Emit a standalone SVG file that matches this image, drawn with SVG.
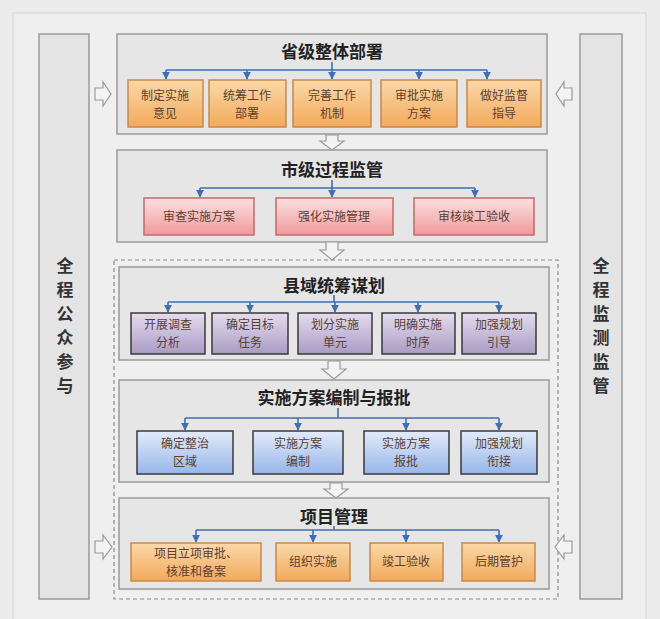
<svg xmlns="http://www.w3.org/2000/svg" width="660" height="619" viewBox="0 0 660 619">
<defs>
<linearGradient id="gO" x1="0" y1="0" x2="0" y2="1"><stop offset="0" stop-color="#fbd9a8"/><stop offset="1" stop-color="#f2a95c"/></linearGradient>
<linearGradient id="gR" x1="0" y1="0" x2="0" y2="1"><stop offset="0" stop-color="#fbe0e0"/><stop offset="1" stop-color="#f09a9c"/></linearGradient>
<linearGradient id="gP" x1="0" y1="0" x2="0" y2="1"><stop offset="0" stop-color="#e4dcee"/><stop offset="1" stop-color="#a99cc4"/></linearGradient>
<linearGradient id="gB" x1="0" y1="0" x2="0" y2="1"><stop offset="0" stop-color="#e2ebfa"/><stop offset="1" stop-color="#98b6ea"/></linearGradient>
<marker id="ah" viewBox="0 0 10 10" refX="9" refY="5" markerWidth="5" markerHeight="5" orient="auto"><path d="M0,0 L10,5 L0,10 Z" fill="#3e6fb5"/></marker>
</defs>
<style>
.panel{fill:#e6e6e6;stroke:#9a9a9a;stroke-width:1.5}
.side{fill:#e4e4e4;stroke:#9a9a9a;stroke-width:1.5}
.o{fill:url(#gO);stroke:#c8894a;stroke-width:1.5}
.r{fill:url(#gR);stroke:#c46a6a;stroke-width:1.5}
.p{fill:url(#gP);stroke:#3a3a3a;stroke-width:1.5}
.b{fill:url(#gB);stroke:#3a3a3a;stroke-width:1.5}
.t{font-family:"Noto Sans CJK SC",sans-serif;font-weight:bold;font-size:17px;fill:#222;text-anchor:middle}
.s{font-family:"Noto Sans CJK SC",sans-serif;font-size:12px;fill:#5a4030;text-anchor:middle}
.v{font-family:"Noto Sans CJK SC",sans-serif;font-weight:bold;font-size:17px;fill:#333;text-anchor:middle}
.bus{fill:none;stroke:#3e6fb5;stroke-width:1.6}
.big{fill:#f4f4f4;stroke:#9a9a9a;stroke-width:1.2}
</style>
<rect x="0" y="0" width="660" height="619" fill="#ececec"/>
<rect x="13" y="13" width="633" height="620" fill="#efefef" stroke="#d4d4d4"/>
<g id="left-side"><rect class="side" x="39" y="34" width="50" height="565"/>
<text class="v" x="65" y="272">全</text><text class="v" x="65" y="296">程</text><text class="v" x="65" y="320">公</text><text class="v" x="65" y="344">众</text><text class="v" x="65" y="368">参</text><text class="v" x="65" y="392">与</text></g>
<g id="right-side"><rect class="side" x="580" y="34" width="42" height="565"/>
<text class="v" x="601" y="272">全</text><text class="v" x="601" y="296">程</text><text class="v" x="601" y="320">监</text><text class="v" x="601" y="344">测</text><text class="v" x="601" y="368">监</text><text class="v" x="601" y="392">管</text></g>
<rect x="114" y="260" width="444" height="339" fill="none" stroke="#8a8a8a" stroke-width="1.2" stroke-dasharray="4,3"/>
<g id="p1"><rect class="panel" x="117" y="34" width="430" height="100"/><text class="t" x="332" y="58">省级整体部署</text></g>
<g id="p2"><rect class="panel" x="117" y="150" width="430" height="92"/><text class="t" x="332" y="176">市级过程监管</text></g>
<g id="p3"><rect class="panel" x="119" y="267" width="430" height="93"/><text class="t" x="334" y="292">县域统筹谋划</text></g>
<g id="p4"><rect class="panel" x="119" y="380" width="430" height="102"/><text class="t" x="334" y="404">实施方案编制与报批</text></g>
<g id="p5"><rect class="panel" x="119" y="498" width="430" height="91"/><text class="t" x="334" y="523">项目管理</text></g>
<g id="connectors">
<path class="bus" d="M332,62 V70 M166,70 H487"/>
<path class="bus" d="M166,70 V79" marker-end="url(#ah)"/><path class="bus" d="M247,70 V79" marker-end="url(#ah)"/><path class="bus" d="M332,70 V79" marker-end="url(#ah)"/><path class="bus" d="M419,70 V79" marker-end="url(#ah)"/><path class="bus" d="M487,70 V79" marker-end="url(#ah)"/>
<path class="bus" d="M332,180 V188 M200,188 H475"/>
<path class="bus" d="M200,188 V197" marker-end="url(#ah)"/><path class="bus" d="M332,188 V197" marker-end="url(#ah)"/><path class="bus" d="M475,188 V197" marker-end="url(#ah)"/>
<path class="bus" d="M334,295 V302 M168,302 H499"/>
<path class="bus" d="M168,302 V312" marker-end="url(#ah)"/><path class="bus" d="M250,302 V312" marker-end="url(#ah)"/><path class="bus" d="M335,302 V312" marker-end="url(#ah)"/><path class="bus" d="M418,302 V312" marker-end="url(#ah)"/><path class="bus" d="M499,302 V312" marker-end="url(#ah)"/>
<path class="bus" d="M338,408 V418 M185,418 H499"/>
<path class="bus" d="M185,418 V430" marker-end="url(#ah)"/><path class="bus" d="M298,418 V430" marker-end="url(#ah)"/><path class="bus" d="M406,418 V430" marker-end="url(#ah)"/><path class="bus" d="M499,418 V430" marker-end="url(#ah)"/>
<path class="bus" d="M334,526 V530 M196,530 H499"/>
<path class="bus" d="M196,530 V542" marker-end="url(#ah)"/><path class="bus" d="M313,530 V542" marker-end="url(#ah)"/><path class="bus" d="M406,530 V542" marker-end="url(#ah)"/><path class="bus" d="M499,530 V542" marker-end="url(#ah)"/>
<path class="big" d="M326,135 H338 V141 H344 L332,150 L320,141 H326 Z"/>
<path class="big" d="M326,242 H338 V250 H344 L332,260 L320,250 H326 Z"/>
<path class="big" d="M328,361 H340 V369 H346 L334,379 L322,369 H328 Z"/>
<path class="big" d="M330,483 H342 V489 H348 L336,498 L324,489 H330 Z"/>
<path class="big" d="M95,88 H103 V82 L111,94 L103,106 V100 H95 Z"/>
<path class="big" d="M572,88 H564 V82 L556,94 L564,106 V100 H572 Z"/>
<path class="big" d="M95,541 H103 V535 L112,547 L103,559 V553 H95 Z"/>
<path class="big" d="M572,541 H564 V535 L555,547 L564,559 V553 H572 Z"/>
</g>
<g id="n1"><rect class="o" x="128" y="80" width="75" height="47"/><text class="s" x="165" y="100">制定实施</text><text class="s" x="165" y="118">意见</text></g>
<g id="n2"><rect class="o" x="209" y="80" width="77" height="47"/><text class="s" x="247" y="100">统筹工作</text><text class="s" x="247" y="118">部署</text></g>
<g id="n3"><rect class="o" x="293" y="80" width="78" height="47"/><text class="s" x="332" y="100">完善工作</text><text class="s" x="332" y="118">机制</text></g>
<g id="n4"><rect class="o" x="381" y="80" width="76" height="47"/><text class="s" x="419" y="100">审批实施</text><text class="s" x="419" y="118">方案</text></g>
<g id="n5"><rect class="o" x="467" y="80" width="74" height="47"/><text class="s" x="504" y="100">做好监督</text><text class="s" x="504" y="118">指导</text></g>
<g id="m1"><rect class="r" x="144" y="198" width="110" height="37"/><text class="s" x="199" y="221">审查实施方案</text></g>
<g id="m2"><rect class="r" x="276" y="198" width="117" height="37"/><text class="s" x="334" y="221">强化实施管理</text></g>
<g id="m3"><rect class="r" x="414" y="198" width="120" height="37"/><text class="s" x="474" y="221">审核竣工验收</text></g>
<g id="c1"><rect class="p" x="131" y="313" width="74" height="41"/><text class="s" x="168" y="329">开展调查</text><text class="s" x="168" y="347">分析</text></g>
<g id="c2"><rect class="p" x="212" y="313" width="76" height="41"/><text class="s" x="250" y="329">确定目标</text><text class="s" x="250" y="347">任务</text></g>
<g id="c3"><rect class="p" x="298" y="313" width="74" height="41"/><text class="s" x="335" y="329">划分实施</text><text class="s" x="335" y="347">单元</text></g>
<g id="c4"><rect class="p" x="382" y="313" width="73" height="41"/><text class="s" x="418" y="329">明确实施</text><text class="s" x="418" y="347">时序</text></g>
<g id="c5"><rect class="p" x="462" y="313" width="74" height="41"/><text class="s" x="499" y="329">加强规划</text><text class="s" x="499" y="347">引导</text></g>
<g id="d1"><rect class="b" x="137" y="431" width="96" height="43"/><text class="s" x="185" y="448">确定整治</text><text class="s" x="185" y="466">区域</text></g>
<g id="d2"><rect class="b" x="253" y="431" width="90" height="43"/><text class="s" x="298" y="448">实施方案</text><text class="s" x="298" y="466">编制</text></g>
<g id="d3"><rect class="b" x="364" y="431" width="85" height="43"/><text class="s" x="406" y="448">实施方案</text><text class="s" x="406" y="466">报批</text></g>
<g id="d4"><rect class="b" x="461" y="431" width="76" height="43"/><text class="s" x="499" y="448">加强规划</text><text class="s" x="499" y="466">衔接</text></g>
<g id="e1"><rect class="o" x="131" y="543" width="130" height="38"/><text class="s" x="196" y="558">项目立项审批、</text><text class="s" x="196" y="576">核准和备案</text></g>
<g id="e2"><rect class="o" x="276" y="543" width="74" height="38"/><text class="s" x="313" y="566">组织实施</text></g>
<g id="e3"><rect class="o" x="370" y="543" width="73" height="38"/><text class="s" x="406" y="566">竣工验收</text></g>
<g id="e4"><rect class="o" x="462" y="543" width="73" height="38"/><text class="s" x="499" y="566">后期管护</text></g>
</svg>
